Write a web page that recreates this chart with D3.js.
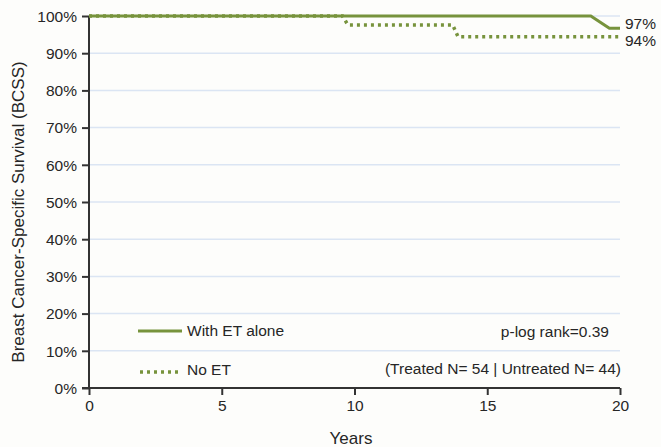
<!DOCTYPE html>
<html>
<head>
<meta charset="utf-8">
<script src="https://cdn.jsdelivr.net/npm/d3@7"></script>
<style>
  body { margin: 0; background: #fdfdfb; }
  svg text { font-family: "Liberation Sans", Arial, sans-serif; fill: #262626; }
</style>
</head>
<body>
<div class="chart"></div>
<script>
var width = 661
var height = 447
var margin = { top: 16, right: 41, bottom: 59, left: 89 }
var plotWidth = width - margin.left - margin.right
var plotHeight = height - margin.top - margin.bottom

// survival curves (years, % BCSS)
var withET = [[0, 100], [18.9, 100], [19.6, 96.7], [20, 96.7]]
var noET = [[0, 100], [9.55, 100], [9.75, 97.6], [13.7, 97.6], [13.9, 94.4], [20, 94.4]]
var endLabels = ['97%', '94%']
var xTicks = [0, 5, 10, 15, 20]
var yTicks = [0, 10, 20, 30, 40, 50, 60, 70, 80, 90, 100]
var legendNames = ['With ET alone', 'No ET']
var pText = 'p-log rank=0.39'
var nText = '(Treated N= 54 | Untreated N= 44)'

var green = '#77933c'

var svg = d3.select('.chart').append('svg')
    .attr('width', width)
    .attr('height', height)

var scaleX = d3.scaleLinear().domain([0, 20]).range([0, plotWidth])
var scaleY = d3.scaleLinear().domain([0, 100]).range([plotHeight, 0])

var g = svg.append('g').attr('transform', 'translate(' + margin.left + ',' + margin.top + ')')

// gridlines
g.selectAll('.grid').data(yTicks.filter(d => d > 0)).enter()
    .append('line')
    .attr('x1', 0).attr('x2', plotWidth)
    .attr('y1', d => scaleY(d)).attr('y2', d => scaleY(d))
    .attr('stroke', '#dbe5f3').attr('stroke-width', 1.5)

// axes
var yAxis = g.append('g')
    .call(d3.axisLeft(scaleY).tickValues(yTicks).tickSize(7).tickFormat(d => d + '%'))
var xAxis = g.append('g')
    .attr('transform', 'translate(0,' + plotHeight + ')')
    .call(d3.axisBottom(scaleX).tickValues(xTicks).tickSize(7).tickSizeOuter(0))

yAxis.select('.domain').remove()
xAxis.select('.domain').remove()
g.append('line').attr('x1', 0).attr('x2', 0).attr('y1', 0).attr('y2', plotHeight)
    .attr('stroke', '#333').attr('stroke-width', 2)
g.append('line').attr('x1', -7).attr('x2', plotWidth).attr('y1', plotHeight).attr('y2', plotHeight)
    .attr('stroke', '#333').attr('stroke-width', 2)
g.selectAll('.tick line').attr('stroke', '#333').attr('stroke-width', 2)
yAxis.selectAll('text').attr('font-size', '15.5px').attr('x', -12).attr('dy', '0.34em')
xAxis.selectAll('text').attr('font-size', '15.5px').attr('y', 12).attr('dy', '0.71em')
g.selectAll('.tick text').style('fill', '#262626')

// curves
var line = d3.line().x(d => scaleX(d[0])).y(d => scaleY(d[1]))
g.append('path').datum(noET)
    .attr('d', line).attr('fill', 'none')
    .attr('stroke', green).attr('stroke-width', 3.5)
    .attr('stroke-dasharray', '3,4')
g.append('path').datum(withET)
    .attr('d', line).attr('fill', 'none')
    .attr('stroke', green).attr('stroke-width', 3)

// end labels
g.append('text').attr('x', scaleX(20) + 5).attr('y', scaleY(96.7) - 5)
    .attr('dy', '0.35em').attr('font-size', '15.5px').text(endLabels[0])
g.append('text').attr('x', scaleX(20) + 5).attr('y', scaleY(94.4) + 4)
    .attr('dy', '0.35em').attr('font-size', '15.5px').text(endLabels[1])

// legend
var legY = [331, 370]
svg.append('line').attr('x1', 138).attr('x2', 182).attr('y1', legY[0]).attr('y2', legY[0])
    .attr('stroke', green).attr('stroke-width', 3)
svg.append('line').attr('x1', 140).attr('x2', 180).attr('y1', legY[1] + 2).attr('y2', legY[1] + 2)
    .attr('stroke', green).attr('stroke-width', 3.5).attr('stroke-dasharray', '3,4')
svg.selectAll('.legtext').data(legendNames).enter().append('text')
    .attr('x', 187).attr('y', (d, i) => legY[i]).attr('dy', '0.35em')
    .attr('font-size', '15.5px').text(d => d)

svg.append('text').attr('x', 609).attr('y', 332).attr('dy', '0.35em')
    .attr('text-anchor', 'end').attr('font-size', '15.5px').text(pText)
svg.append('text').attr('x', 621).attr('y', 369).attr('dy', '0.35em')
    .attr('text-anchor', 'end').attr('font-size', '15.5px').text(nText)

// axis titles
svg.append('text').attr('x', 351).attr('y', 438).attr('dy', '0.35em')
    .attr('text-anchor', 'middle').attr('font-size', '17px').text('Years')
svg.append('text').attr('transform', 'translate(18,212) rotate(-90)')
    .attr('dy', '0.35em').attr('text-anchor', 'middle').attr('font-size', '17px')
    .text('Breast Cancer-Specific Survival (BCSS)')
</script>
</body>
</html>
